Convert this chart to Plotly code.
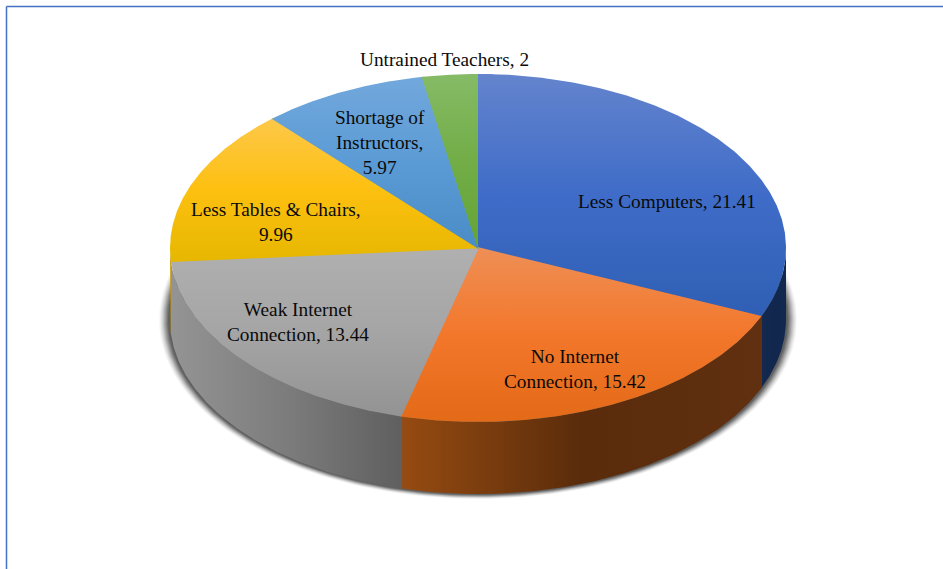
import numpy as np
import plotly.graph_objects as go

# ---- data ----
categories = ["Less Computers", "No Internet Connection", "Weak Internet Connection",
              "Less Tables & Chairs", "Shortage of Instructors", "Untrained Teachers"]
values = [21.41, 15.42, 13.44, 9.96, 5.97, 2]
label_lines = [
    "Less Computers, 21.41",
    "No Internet<br>Connection, 15.42",
    "Weak Internet<br>Connection, 13.44",
    "Less Tables & Chairs,<br>9.96",
    "Shortage of<br>Instructors,<br>5.97",
    "Untrained Teachers, 2",
]

# ---- styling / geometry ----
label_xy = [(667, 201), (575, 369), (298, 322), (275.5, 222), (380, 142), (444, 59)]
CX, CY, RX, RY, DEPTH = 478.0, 248.0, 308.0, 174.0, 72.0
OVERLAP = 0.005
top_grad = [
    ["#6484cd", "#3f6cc8", "#2f5fb4"],
    ["#ee8f56", "#f3772b", "#e36a17"],
    ["#b0b0b0", "#a5a5a5", "#939393"],
    ["#fdc84a", "#fdc010", "#e6b700"],
    ["#72a8dc", "#5b9bd5", "#4a8cc6"],
    ["#86bb66", "#72ad47", "#64a335"],
]
side_grad = [
    ["#15294f", "#11274e", "#12294f"],
    ["#964b11", "#5a2c0b", "#603010"],
    ["#949494", "#7c7c7c", "#5f5f5f"],
    ["#c79600", "#c79600", "#c79600"],
    ["#3c6f9e", "#3c6f9e", "#3c6f9e"],
    ["#4f7d33", "#4f7d33", "#4f7d33"],
]


def ramp(cols):
    return [[i / (len(cols) - 1), c] for i, c in enumerate(cols)]


def pt(theta, rx=RX, ry=RY, dy=0.0):
    return CX + rx * np.sin(theta), CY - ry * np.cos(theta) + dy


fig = go.Figure()

# soft shadow beneath the disc
for k, alpha in [(11, .04), (10, .05), (9, .06), (8, .08), (7, .10), (6, .12),
                 (5, .14), (4, .17), (3, .20), (2, .24)]:
    t = np.linspace(0, 2 * np.pi, 361)
    x, y = pt(t, RX + k, RY + k * 0.45, DEPTH)
    fig.add_trace(go.Scatter(x=x, y=y, mode="lines", fill="toself", line=dict(width=0),
                             fillcolor=f"rgba(40,40,40,{alpha})", hoverinfo="skip", showlegend=False))

fractions = np.cumsum([0] + values) / sum(values)
angles = fractions * 2 * np.pi

# side walls (only the front half, pi/2..3pi/2, is visible)
for i, cat in enumerate(categories):
    a0, a1 = max(angles[i], np.pi / 2), min(angles[i + 1], 3 * np.pi / 2)
    if a1 <= a0:
        continue
    t = np.linspace(a0 - OVERLAP / 2, a1, 120)
    xt, yt = pt(t)
    xb, yb = pt(t[::-1], dy=DEPTH)
    x = np.r_[xt, xb, xt[0]]
    y = np.r_[yt, yb, yt[0]]
    fig.add_trace(go.Scatter(
        x=x, y=y, mode="lines", fill="toself", line=dict(width=0), name=cat, showlegend=False,
        hoverinfo="skip",
        fillgradient=dict(type="horizontal", colorscale=ramp(side_grad[i]),
                          start=float(x.min()), stop=float(x.max()))))

# top faces; each wedge runs slightly under the next so no white seam shows
for i, cat in enumerate(categories):
    t = np.linspace(angles[i], angles[i + 1] + OVERLAP, 200)
    xa, ya = pt(t)
    mid = (angles[i] + angles[i + 1]) / 2
    xc, yc = pt(mid + np.pi, rx=1.5, ry=1.0)
    x = np.r_[xc, xa, xc]
    y = np.r_[yc, ya, yc]
    fig.add_trace(go.Scatter(
        x=x, y=y, mode="lines", fill="toself", line=dict(width=0), name=cat, showlegend=False,
        hovertemplate=f"{cat}: {values[i]}<extra></extra>",
        fillgradient=dict(type="vertical", colorscale=ramp(top_grad[i]),
                          start=float(y.min()), stop=float(y.max()))))
# redraw the first wedge's leading edge order: it must sit above the last wedge's overlap
first_t = np.linspace(angles[0], angles[0] + 0.05, 12)
xa, ya = pt(first_t)
x = np.r_[CX, xa, CX]
y = np.r_[CY, ya, CY]
fig.add_trace(go.Scatter(
    x=x, y=y, mode="lines", fill="toself", line=dict(width=0), showlegend=False, hoverinfo="skip",
    fillgradient=dict(type="vertical", colorscale=ramp(top_grad[0]), start=CY - RY, stop=CY + RY * 0.39)))

for (lx, ly), txt in zip(label_xy, label_lines):
    fig.add_annotation(x=lx, y=ly, text=txt, showarrow=False, align="center",
                       font=dict(family="Liberation Serif", size=19.3, color="#0a0a0a"))

# the frame shows on the left and top edges only
fig.add_shape(type="line", x0=6.5, x1=6.5, y0=6.5, y1=569, line=dict(color="#4472C4", width=1.5))
fig.add_shape(type="line", x0=6.5, x1=943, y0=6.5, y1=6.5, line=dict(color="#4472C4", width=1.5))

fig.update_layout(
    width=943, height=569, margin=dict(l=0, r=0, t=0, b=0),
    paper_bgcolor="white", plot_bgcolor="white", showlegend=False,
    xaxis=dict(range=[0, 943], visible=False, fixedrange=True),
    yaxis=dict(range=[569, 0], visible=False, fixedrange=True),
)
fig.write_html("out.html", config=dict(displayModeBar=False),
               post_script="document.body.style.margin='0';document.body.style.overflow='hidden';")
